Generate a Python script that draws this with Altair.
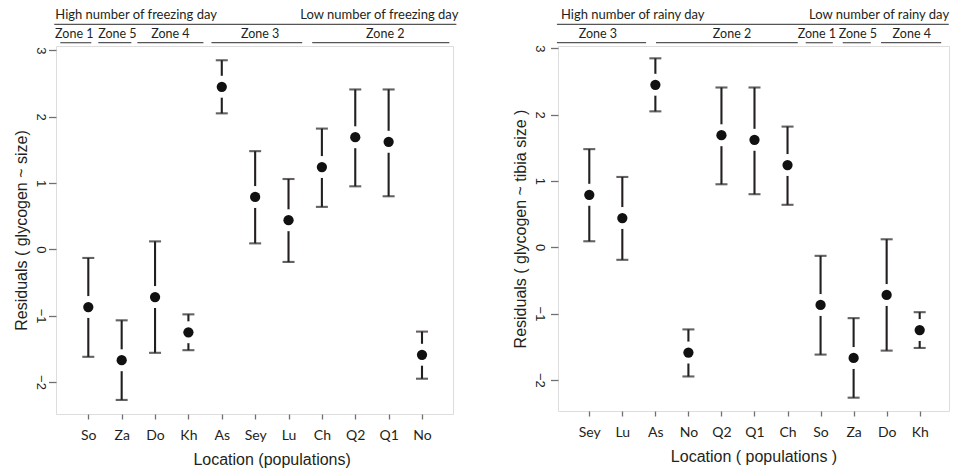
import json
import altair as alt
import pandas as pd

# ---- data ----
populations = ["So", "Za", "Do", "Kh", "As", "Sey", "Lu", "Ch", "Q2", "Q1", "No"]
residual = [-0.87, -1.67, -0.72, -1.25, 2.45, 0.79, 0.44, 1.24, 1.69, 1.62, -1.59]
ci_upper = [-0.13, -1.07, 0.12, -0.98, 2.85, 1.48, 1.06, 1.82, 2.41, 2.41, -1.24]
ci_lower = [-1.62, -2.27, -1.56, -1.52, 2.05, 0.09, -0.19, 0.64, 0.95, 0.80, -1.95]

order_freezing = ["So", "Za", "Do", "Kh", "As", "Sey", "Lu", "Ch", "Q2", "Q1", "No"]
order_rainy = ["Sey", "Lu", "As", "No", "Q2", "Q1", "Ch", "So", "Za", "Do", "Kh"]

zones_freezing = ["Zone 1", "Zone 5", "Zone 4", "Zone 3", "Zone 2"]
zones_freezing_start = [0.16, 1.30, 2.47, 4.69, 7.71]
zones_freezing_end = [1.09, 2.29, 4.45, 7.41, 11.82]
zones_freezing_label = [0.58, 1.87, 3.46, 6.15, 9.90]

zones_rainy = ["Zone 3", "Zone 2", "Zone 1", "Zone 5", "Zone 4"]
zones_rainy_start = [0.02, 3.02, 7.55, 8.67, 9.83]
zones_rainy_end = [2.72, 7.31, 8.37, 9.52, 11.65]
zones_rainy_label = [1.26, 5.32, 7.89, 9.13, 10.76]

y_ticks = [-2, -1, 0, 1, 2, 3]

INK = "#231f20"
BOX = "#707070"
ANN_FONT = "Lato"
AX_FONT = "Liberation Sans"


def panel(order, ytitle, xtitle, width, height, xdom, ydom,
          zname, zstart, zend, zlab, high_txt, high_x, low_txt, low_x,
          line_x, line_x2, title_x=None, ylabel_pad=8):
    idx = [populations.index(p) for p in order]
    df = pd.DataFrame({
        "pos": list(range(1, len(order) + 1)),
        "pop": order,
        "res": [residual[i] for i in idx],
        "hi": [ci_upper[i] for i in idx],
        "lo": [ci_lower[i] for i in idx],
    })
    xscale = alt.Scale(domain=xdom, nice=False, zero=False)
    yscale = alt.Scale(domain=ydom, nice=False, zero=False)
    xaxis_kw = dict(
        values=list(range(1, len(order) + 1)),
        labelExpr=json.dumps(order) + "[datum.value - 1]",
        title=xtitle, grid=False, domain=False,
        tickSize=5, tickColor=BOX, tickWidth=1.3,
        labelPadding=9, labelFont=ANN_FONT, labelFontSize=14, labelColor=INK,
        labelAngle=0, labelFlush=False,
        titleFont=AX_FONT, titleFontSize=16, titleFontWeight="normal",
        titleColor=INK, titlePadding=9,
    )
    if title_x is not None:
        xaxis_kw["titleX"] = title_x
    xaxis = alt.Axis(**xaxis_kw)
    yaxis = alt.Axis(
        values=y_ticks, title=ytitle, grid=False, domain=False,
        tickSize=7.5, tickColor=BOX, tickWidth=1.3,
        labelAngle=90, labelAlign="center", labelBaseline="middle",
        labelPadding=ylabel_pad, labelFont=AX_FONT, labelFontSize=13, labelColor=INK,
        titleFont=AX_FONT, titleFontSize=16, titleFontWeight="normal",
        titleColor=INK, titlePadding=4,
    )
    base = alt.Chart(df)
    x = alt.X("pos:Q", scale=xscale, axis=xaxis)

    def xa(field):
        return alt.X(field, scale=xscale, axis=xaxis)

    rules = base.mark_rule(color=INK, strokeWidth=2.1).encode(
        x=x, y=alt.Y("lo:Q", scale=yscale, axis=yaxis), y2="hi:Q")
    cap_hi = base.mark_tick(color=INK, thickness=2.1, size=12, orient="horizontal").encode(
        x=x, y=alt.Y("hi:Q", scale=yscale, axis=yaxis))
    cap_lo = base.mark_tick(color=INK, thickness=2.1, size=12, orient="horizontal").encode(
        x=x, y=alt.Y("lo:Q", scale=yscale, axis=yaxis))
    halo = base.mark_point(filled=True, color="white", opacity=1, size=484, strokeWidth=0).encode(
        x=x, y=alt.Y("res:Q", scale=yscale, axis=yaxis))
    dots = base.mark_point(filled=True, color="#111111", opacity=1, size=105, strokeWidth=0).encode(
        x=x, y=alt.Y("res:Q", scale=yscale, axis=yaxis))

    zdf = pd.DataFrame({"zone": zname, "start": zstart, "end": zend, "lab": zlab})
    zb = alt.Chart(zdf)
    zlines = zb.mark_rule(color="#555555", strokeWidth=1.2).encode(
        x=xa("start:Q"), x2="end:Q", y=alt.value(-3.3))
    ztext = zb.mark_text(font=ANN_FONT, fontSize=12.5, color=INK, align="center",
                         baseline="alphabetic").encode(
        x=xa("lab:Q"), y=alt.value(-8.2), text="zone:N")

    tdf = pd.DataFrame({"txt": [high_txt], "x": [high_x]})
    tdf2 = pd.DataFrame({"txt": [low_txt], "x": [low_x]})
    ldf = pd.DataFrame({"x": [line_x], "x2": [line_x2]})
    htext = alt.Chart(tdf).mark_text(font=ANN_FONT, fontSize=13, color=INK, align="left",
                                     baseline="alphabetic").encode(
        x=xa("x:Q"), y=alt.value(-27.5), text="txt:N")
    ltext = alt.Chart(tdf2).mark_text(font=ANN_FONT, fontSize=13, color=INK, align="right",
                                      baseline="alphabetic").encode(
        x=xa("x:Q"), y=alt.value(-27.5), text="txt:N")
    tline = alt.Chart(ldf).mark_rule(color="#555555", strokeWidth=1.2).encode(
        x=xa("x:Q"), x2="x2:Q", y=alt.value(-21.7))

    return alt.layer(rules, cap_hi, cap_lo, halo, dots, zlines, ztext,
                     htext, ltext, tline).properties(width=width, height=height)


left = panel(order_freezing, "Residuals ( glycogen ~ size)", "Location (populations)",
             397, 368, [0.032, 11.929], [-2.482, 3.065],
             zones_freezing, zones_freezing_start, zones_freezing_end, zones_freezing_label,
             "High number of freezing day", 0.011, "Low number of freezing day", 12.09,
             -0.02, 12.03, title_x=215.6, ylabel_pad=8)
right = panel(order_rainy, "Residuals ( glycogen ~ tibia size )", "Location ( populations )",
              391, 365, [0.053, 11.887], [-2.471, 3.036],
              zones_rainy, zones_rainy_start, zones_rainy_end, zones_rainy_label,
              "High number of rainy day", 0.143, "Low number of rainy day", 11.89,
              0.02, 11.88, ylabel_pad=11)

chart = alt.hconcat(left, right, spacing=105, bounds="flush").properties(
    padding={"left": 13, "top": 8, "right": 0, "bottom": 0},
).configure_view(stroke=BOX, strokeWidth=1.4).configure(background="white")

chart.save("out.html", embed_options={"renderer": "svg", "actions": False})
